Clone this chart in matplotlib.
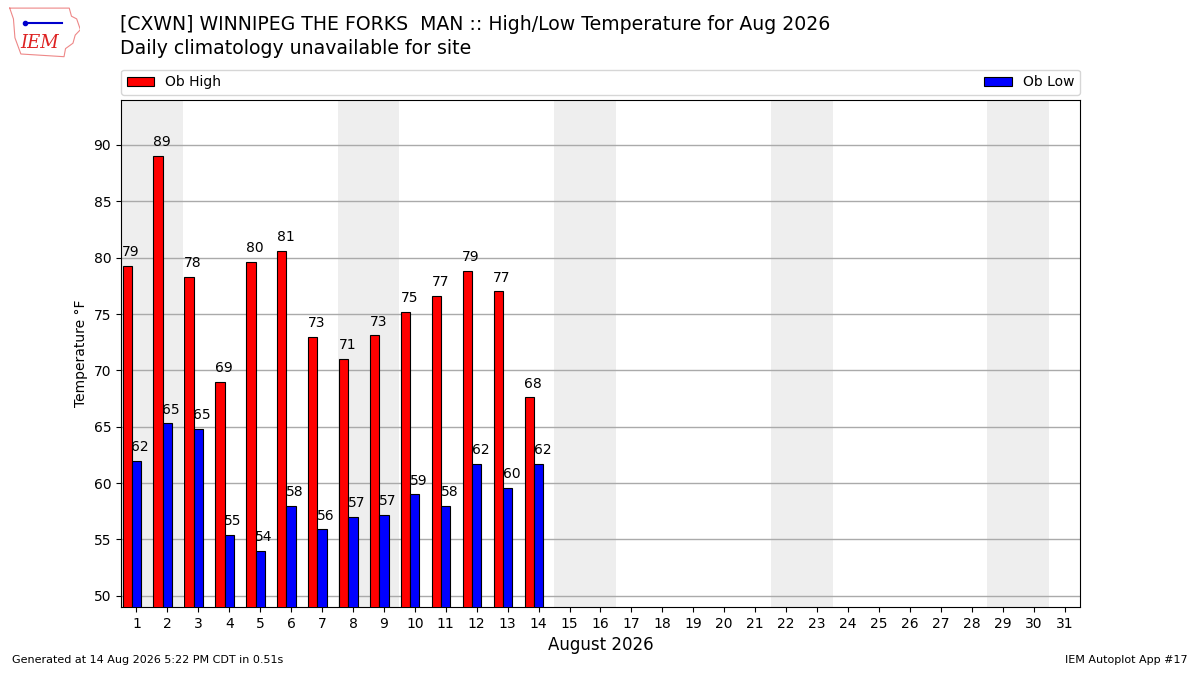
import matplotlib
matplotlib.use("Agg")
import matplotlib.pyplot as plt
import numpy as np

days = list(range(1, 15))
highs = [79.3, 89.0, 78.3, 69.0, 79.6, 80.6, 73.0, 71.0, 73.1, 75.2, 76.6, 78.8, 77.0, 67.6]
lows = [62.0, 65.3, 64.8, 55.4, 54.0, 58.0, 55.9, 57.0, 57.2, 59.0, 58.0, 61.7, 59.6, 61.7]
weekend_starts = [1, 8, 15, 22, 29]
all_days = list(range(1, 32))

fig = plt.figure(figsize=(12, 6.75), dpi=100)
ax = fig.add_axes([0.1008, 0.1007, 0.7992, 0.7513])

for d in weekend_starts:
    ax.axvspan(d - 0.5, d + 1.5, color="#eeeeee", zorder=0, lw=0)

ax.grid(axis="y", color="#aaaaaa", lw=1, zorder=1)
ax.set_axisbelow(True)

d = np.array(days)
ax.bar(d - 0.3, highs, width=0.3, color="red", edgecolor="black", lw=0.8, zorder=3, label="Ob High")
ax.bar(d, lows, width=0.3, color="blue", edgecolor="black", lw=0.8, zorder=3, label="Ob Low")
for x, v in zip(d - 0.3, highs):
    ax.text(x + 0.12, v + 0.6, "%.0f" % v, ha="center", va="bottom", fontsize=10, zorder=4)
for x, v in zip(d, lows):
    ax.text(x + 0.12, v + 0.6, "%.0f" % v, ha="center", va="bottom", fontsize=10, zorder=4)

ax.set_xlim(0.5, 31.5)
ax.set_ylim(49, 94)
ax.set_xticks(all_days)
ax.set_xticklabels([str(x) for x in all_days], fontsize=10)
ax.set_yticks(range(50, 95, 5))
ax.tick_params(axis="y", labelsize=10)
ax.set_ylabel("Temperature °F", fontsize=10)
ax.set_xlabel("August 2026", fontsize=12)

ax.legend(loc="lower left", bbox_to_anchor=(0, 1.01, 1, 0.05), mode="expand", ncol=2,
          fontsize=10, borderaxespad=0, handlelength=2.0)

fig.text(0.1, 0.963, "[CXWN] WINNIPEG THE FORKS  MAN :: High/Low Temperature for Aug 2026",
         fontsize=13.6, va="center", ha="left")
fig.text(0.1, 0.928, "Daily climatology unavailable for site", fontsize=13.6, va="center", ha="left")
fig.text(0.01, 0.015, "Generated at 14 Aug 2026 5:22 PM CDT in 0.51s", fontsize=8, ha="left", va="bottom")
fig.text(0.99, 0.015, "IEM Autoplot App #17", fontsize=8, ha="right", va="bottom")

# logo approximation
lax = fig.add_axes([0.005, 0.912, 0.062, 0.08])
lax.set_axis_off()
lax.set_xlim(0, 1)
lax.set_ylim(0, 1)
outline_x = [0.05, 0.85, 0.88, 0.95, 1.0, 0.93, 0.9, 0.8, 0.78, 0.2, 0.12, 0.1, 0.05]
outline_y = [0.95, 0.95, 0.8, 0.75, 0.55, 0.45, 0.3, 0.2, 0.05, 0.1, 0.4, 0.75, 0.95]
lax.plot(outline_x, outline_y, color="#e88", lw=0.8)
lax.plot([0.25, 0.75], [0.68, 0.68], color="#0000cc", lw=1.5)
lax.plot([0.25], [0.68], "o", color="#0000cc", ms=3)
lax.text(0.45, 0.3, "IEM", color="#d22", fontsize=13, style="italic", family="serif",
         ha="center", va="center")

fig.savefig("out.png", dpi=100)
